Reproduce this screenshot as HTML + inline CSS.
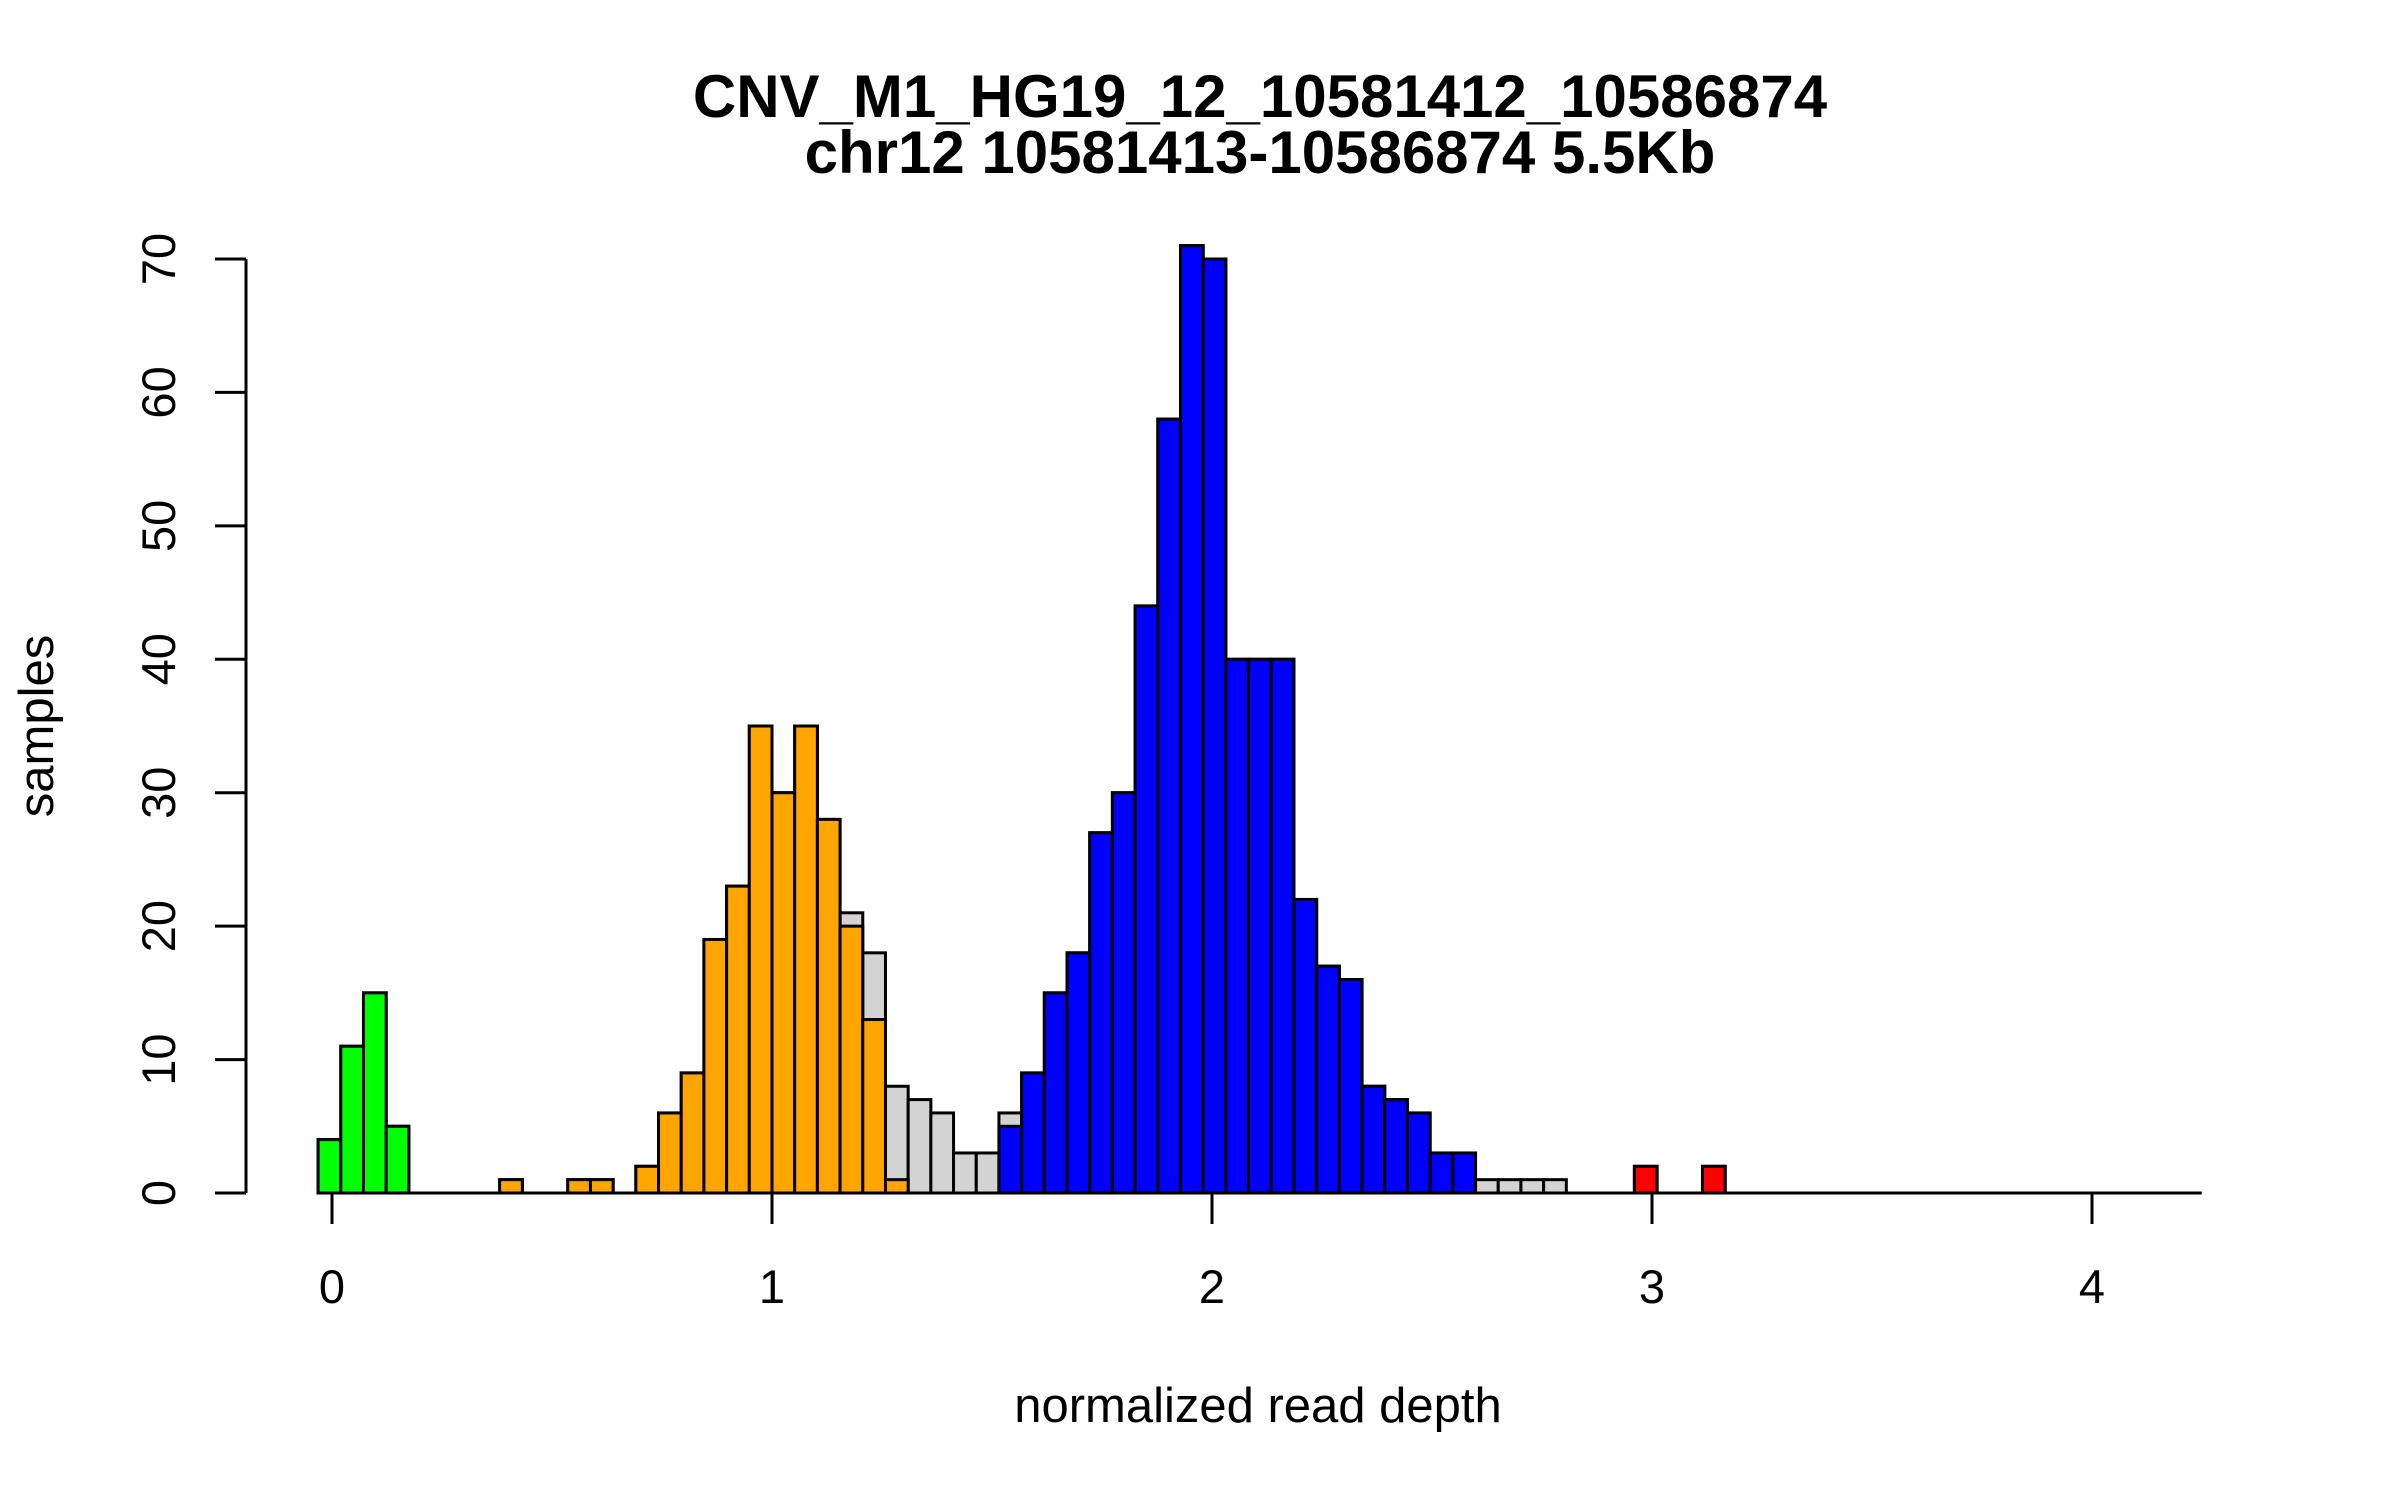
<!DOCTYPE html>
<html><head><meta charset="utf-8"><style>
html,body{margin:0;padding:0;background:#fff;}
svg{display:block;font-family:"Liberation Sans",Arial,sans-serif;}
</style></head><body>
<svg id="chart" width="2400" height="1500" viewBox="0 0 2400 1500" xmlns="http://www.w3.org/2000/svg">
<text x="1260" y="117" text-anchor="middle" font-size="60" font-weight="bold">CNV_M1_HG19_12_10581412_10586874</text>
<text x="1260" y="173" text-anchor="middle" font-size="60" font-weight="bold">chr12 10581413-10586874 5.5Kb</text>
<text x="1258" y="1422" text-anchor="middle" font-size="49">normalized read depth</text>
<text x="53" y="726" text-anchor="middle" font-size="49" transform="rotate(-90 53 726)">samples</text>
<g id="bars"></g>
<g id="axes"></g>
</svg>
<script>
const kStart = -20;
const totalCounts = [4,11,15,5,0,0,0,0,1,0,0,1,1,0,2,6,9,19,23,35,30,35,28,21,18,8,
7,6,3,3,6,9,15,18,27,30,44,58,71,70,40,40,40,22,17,16,8,7,6,3,3,1,1,1,1,0,0,0,2,0,0,2,
0,0,0,0,0,0,0,0,0,0,0,0,0,0,0,0,0,0,0,0,0];
const greenStart = -20;
const greenCounts = [4,11,15,5];
const orangeStart = -12;
const orangeCounts = [1,0,0,1,1,0,2,6,9,19,23,35,30,35,28,20,13,1];
const blueStart = 10;
const blueCounts = [5,9,15,18,27,30,44,58,71,70,40,40,40,22,17,16,8,7,6,3,3];
const redStart = 38;
const redCounts = [2,0,0,2];
const xTicks = [0,1,2,3,4];
const yTicks = [0,10,20,30,40,50,60,70];
const binWidth = 0.98/19;

const NS = "http://www.w3.org/2000/svg";
const X0 = 332, XU = 440, Y0 = 1193, YU = (1193-259)/70;
function sx(v){ return X0 + v*XU; }
function sy(v){ return Y0 - v*YU; }
function edge(k){ return 1 + k*binWidth; }
const bars = document.getElementById('bars');
const axes = document.getElementById('axes');

function drawSeries(start, counts, fill, name){
  counts.forEach((c,i)=>{
    if (c <= 0) return;
    const k = start + i;
    const x1 = sx(edge(k)), x2 = sx(edge(k+1));
    const r = document.createElementNS(NS,'rect');
    r.setAttribute('x', x1);
    r.setAttribute('y', sy(c));
    r.setAttribute('width', x2-x1);
    r.setAttribute('height', sy(0)-sy(c));
    r.setAttribute('fill', fill);
    r.setAttribute('stroke', '#000');
    r.setAttribute('stroke-width', '3');
    
    
    bars.appendChild(r);
  });
}
drawSeries(kStart, totalCounts, '#d3d3d3', 'all');
drawSeries(greenStart, greenCounts, '#00ff00', 'green');
drawSeries(orangeStart, orangeCounts, '#ffa500', 'orange');
drawSeries(blueStart, blueCounts, '#0000ff', 'blue');
drawSeries(redStart, redCounts, '#ff0000', 'red');

function line(x1,y1,x2,y2,name){
  const l = document.createElementNS(NS,'line');
  l.setAttribute('x1',x1); l.setAttribute('y1',y1);
  l.setAttribute('x2',x2); l.setAttribute('y2',y2);
  l.setAttribute('stroke','#000'); l.setAttribute('stroke-width','3');
  
  
  axes.appendChild(l);
}
function text(x,y,s,rot,name){
  const t = document.createElementNS(NS,'text');
  t.setAttribute('x',x); t.setAttribute('y',y);
  t.setAttribute('font-size','47');
  t.setAttribute('text-anchor','middle');
  if(rot) t.setAttribute('transform','rotate(-90 '+x+' '+y+')');
  t.textContent = s;
  
  
  axes.appendChild(t);
}
// histogram baseline across all bins
line(sx(edge(kStart)), Y0, sx(edge(kStart + totalCounts.length)), Y0, 'histogram-baseline');
// x ticks
xTicks.forEach(v=>{
  line(sx(v), Y0, sx(v), Y0+31, 'x-tick');
  text(sx(v), 1303, String(v), false, 'x-tick-label');
});
// y axis
line(246, sy(yTicks[0]), 246, sy(yTicks[yTicks.length-1]), 'y-axis-line');
yTicks.forEach(v=>{
  line(215, sy(v), 246, sy(v), 'y-tick');
  text(175, sy(v), String(v), true, 'y-tick-label');
});
</script>
</body></html>
